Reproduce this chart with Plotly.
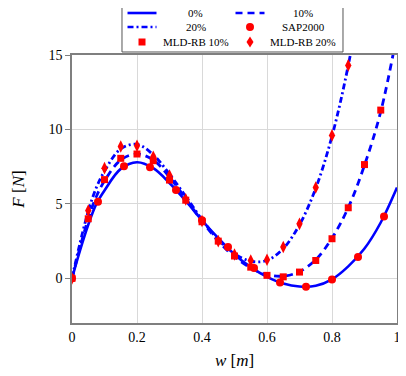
import plotly.graph_objects as go

# curve values (w in m, F in N)
w_line = [0, 0.025, 0.05, 0.075, 0.1, 0.15, 0.2, 0.25, 0.3, 0.35, 0.4, 0.45, 0.5,
          0.55, 0.6, 0.65, 0.7, 0.75, 0.8, 0.85, 0.9, 0.95, 1.0]
f_0 = [0, 1.9, 3.6, 5.0, 5.9, 7.35, 7.8, 7.4, 6.4, 5.2, 3.9, 2.7, 1.6,
       0.75, 0.1, -0.35, -0.55, -0.5, -0.07, 0.8, 2.0, 3.75, 6.1]
f_10 = [0, 2.1, 4.0, 5.5, 6.55, 7.95, 8.35, 7.95, 6.8, 5.35, 3.85, 2.5, 1.45,
        0.7, 0.25, 0.15, 0.45, 1.25, 2.7, 4.75, 7.6, 11.2, 16.4]
w_20 = [0, 0.025, 0.05, 0.075, 0.1, 0.15, 0.2, 0.25, 0.3, 0.35, 0.4, 0.45, 0.5,
        0.55, 0.6, 0.65, 0.7, 0.75, 0.8, 0.85, 0.9]
f_20 = [0, 2.4, 4.5, 6.1, 7.2, 8.7, 9.0, 8.3, 7.0, 5.5, 3.95, 2.6, 1.65,
        1.15, 1.2, 2.0, 3.6, 6.05, 9.55, 14.3, 20.5]

# SAP2000 points
w_sap = [0, 0.08, 0.16, 0.24, 0.32, 0.40, 0.48, 0.56, 0.64, 0.72, 0.80, 0.88, 0.96]
f_sap = [0, 5.15, 7.52, 7.46, 5.94, 3.9, 2.1, 0.7, -0.28, -0.56, -0.07, 1.43, 4.15]

# MLD-RB points
w_mld10 = [0, 0.05, 0.1, 0.15, 0.2, 0.25, 0.3, 0.35, 0.4, 0.45, 0.5, 0.55, 0.6,
           0.65, 0.7, 0.75, 0.8, 0.85, 0.9, 0.95]
f_mld10 = [0, 4.0, 6.63, 8.06, 8.35, 7.9, 6.6, 5.25, 3.8, 2.5, 1.5, 0.75, 0.2,
           0.1, 0.42, 1.2, 2.66, 4.74, 7.64, 11.3]
w_mld20 = [0, 0.05, 0.1, 0.15, 0.2, 0.25, 0.3, 0.35, 0.4, 0.45, 0.5, 0.55, 0.6,
           0.65, 0.7, 0.75, 0.8, 0.85]
f_mld20 = [0, 4.55, 7.4, 8.85, 8.9, 8.17, 6.9, 5.3, 3.85, 2.5, 1.6, 1.2, 1.25,
           2.1, 3.66, 6.1, 9.6, 14.3]

# legend entries, row by row (2 columns)
legend_labels = ['0%', '10%', '20%', 'SAP2000', 'MLD-RB 10%', 'MLD-RB 20%']

blue = '#0000ff'
red = '#ff0000'
serif = 'Liberation Serif'
dash10 = '7px,5px'
dash20 = '6px,3px,2px,3px'

fig = go.Figure()
fig.add_trace(go.Scatter(x=w_line, y=f_0, mode='lines', name=legend_labels[0],
                         line=dict(color=blue, width=2.6, shape='spline')))
fig.add_trace(go.Scatter(x=w_line, y=f_10, mode='lines', name=legend_labels[1],
                         line=dict(color=blue, width=2.8, dash=dash10, shape='spline')))
fig.add_trace(go.Scatter(x=w_20, y=f_20, mode='lines', name=legend_labels[2],
                         line=dict(color=blue, width=2.8, dash=dash20, shape='spline')))
fig.add_trace(go.Scatter(x=w_sap, y=f_sap, mode='markers', name=legend_labels[3],
                         marker=dict(color=red, size=8, symbol='circle')))
fig.add_trace(go.Scatter(x=w_mld10, y=f_mld10, mode='markers', name=legend_labels[4],
                         marker=dict(color=red, size=7, symbol='square')))
fig.add_trace(go.Scatter(x=w_mld20, y=f_mld20, mode='markers', name=legend_labels[5],
                         marker=dict(color=red, size=9, symbol='diamond-tall')))

# hand-made legend box above the axes (paper coords), pgfplots style
col_sym = [0.2154, 0.5477]
col_txt = [0.3815, 0.7108]
row_y = [1.1567, 1.1045, 1.0485]
half = 0.0446
shapes = [dict(type='rect', xref='paper', yref='paper', x0=0.1538, x1=0.8338,
               y0=1.0112, y1=1.23, line=dict(color='#555555', width=1),
               fillcolor='white', layer='above')]
line_styles = [None, dash10, dash20]
for i, dash in enumerate(line_styles):
    r, c = divmod(i, 2)
    ln = dict(color=blue, width=2.6)
    if dash:
        ln['dash'] = dash
    shapes.append(dict(type='line', xref='paper', yref='paper',
                       x0=col_sym[c] - half, x1=col_sym[c] + half,
                       y0=row_y[r], y1=row_y[r], line=ln, layer='above'))
# marker samples: circle, square, diamond
for i, kind in zip([3, 4, 5], ['circle', 'rect', 'diamond']):
    r, c = divmod(i, 2)
    base = dict(xref='paper', yref='paper', xsizemode='pixel', ysizemode='pixel',
                xanchor=col_sym[c], yanchor=row_y[r], fillcolor=red,
                line=dict(width=0), layer='above')
    if kind == 'circle':
        shapes.append(dict(base, type='circle', x0=-4, x1=4, y0=-4, y1=4))
    elif kind == 'rect':
        shapes.append(dict(base, type='rect', x0=-3.5, x1=3.5, y0=-3.5, y1=3.5))
    else:
        shapes.append(dict(base, type='path', path='M0,-5.5 L3.5,0 L0,5.5 L-3.5,0 Z'))

annotations = []
for i, lab in enumerate(legend_labels):
    r, c = divmod(i, 2)
    annotations.append(dict(text=lab, xref='paper', yref='paper', x=col_txt[c], y=row_y[r],
                            xanchor='center', yanchor='middle', showarrow=False,
                            font=dict(family=serif, size=11)))

fig.update_layout(
    width=398, height=368,
    margin=dict(l=64, r=9, t=47, b=53, autoexpand=False),
    paper_bgcolor='white', plot_bgcolor='white',
    font=dict(family=serif, size=14, color='black'),
    showlegend=False,
    shapes=shapes, annotations=annotations,
)
fig.update_xaxes(range=[0, 1], tickvals=[0, 0.2, 0.4, 0.6, 0.8, 1],
                 ticktext=['0', '0.2', '0.4', '0.6', '0.8', '1'],
                 showgrid=True, gridcolor='#d9d9d9', gridwidth=1, zeroline=False,
                 showline=True, linecolor='#7f7f7f', linewidth=1.5, mirror=True,
                 automargin=False,
                 title=dict(text='<i>w</i> [<i>m</i>]', standoff=11))
fig.update_yaxes(range=[-3, 15], tickvals=[0, 5, 10, 15],
                 showgrid=True, gridcolor='#d9d9d9', gridwidth=1, zeroline=False,
                 showline=True, linecolor='#7f7f7f', linewidth=1.5, mirror=True,
                 ticks='outside', ticklen=5, tickcolor='#7f7f7f',
                 automargin=False,
                 title=dict(text='<i>F</i> [<i>N</i>]', standoff=20))

fig.write_html('out.html')
